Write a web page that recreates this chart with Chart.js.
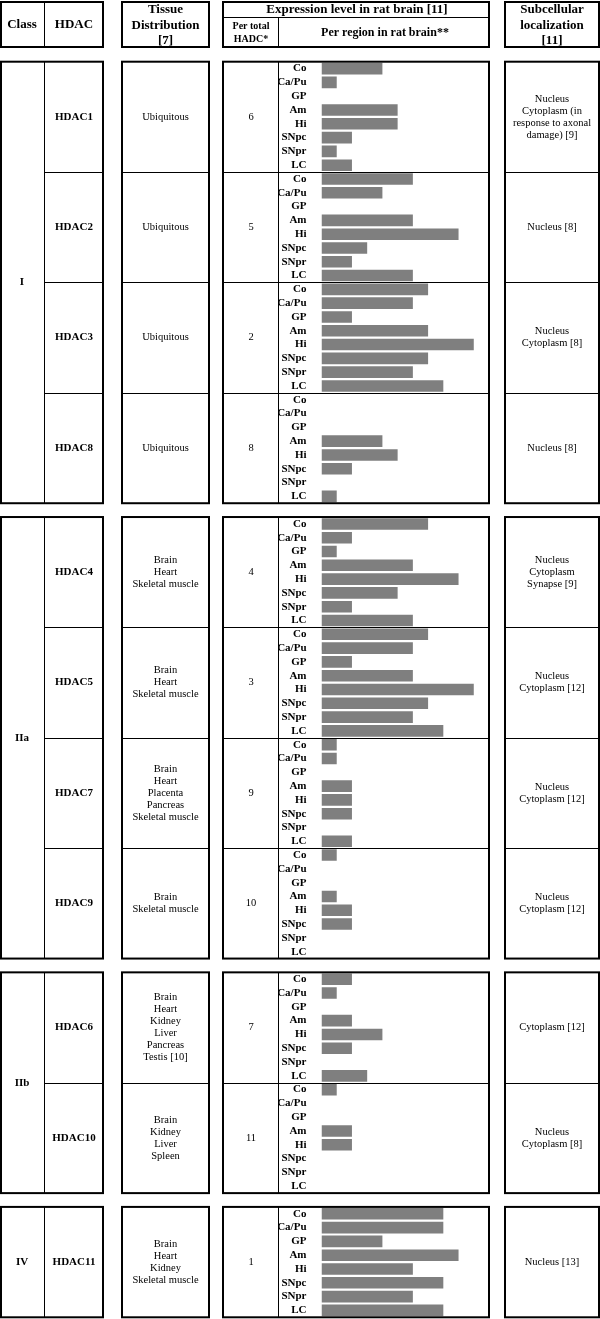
<!DOCTYPE html>
<html>
<head>
<meta charset="utf-8">
<script src="https://cdn.jsdelivr.net/npm/chart.js@4/dist/chart.umd.min.js"></script>
<style>
  html, body { margin: 0; padding: 0; background: #fff; overflow: hidden; }
  canvas { display: block; }
</style>
</head>
<body>
<canvas id="hdacChart" width="600" height="1332"></canvas>
<script>
// DATA
let regions = ['Co', 'Ca/Pu', 'GP', 'Am', 'Hi', 'SNpc', 'SNpr', 'LC'];
let classNames = ['I', 'IIa', 'IIb', 'IV'];
let classSizes = [4, 4, 2, 1];
let hdacNames = ['HDAC1', 'HDAC2', 'HDAC3', 'HDAC8', 'HDAC4', 'HDAC5', 'HDAC7', 'HDAC9', 'HDAC6', 'HDAC10', 'HDAC11'];
let perTotal = ['6', '5', '2', '8', '4', '3', '9', '10', '7', '11', '1'];

// expression level per region (Co, Ca/Pu, GP, Am, Hi, SNpc, SNpr, LC)
let hdac1 = [4, 1, 0, 5, 5, 2, 1, 2];
let hdac2 = [6, 4, 0, 6, 9, 3, 2, 6];
let hdac3 = [7, 6, 2, 7, 10, 7, 6, 8];
let hdac8 = [0, 0, 0, 4, 5, 2, 0, 1];
let hdac4 = [7, 2, 1, 6, 9, 5, 2, 6];
let hdac5 = [7, 6, 2, 6, 10, 7, 6, 8];
let hdac7 = [1, 1, 0, 2, 2, 2, 0, 2];
let hdac9 = [1, 0, 0, 1, 2, 2, 0, 0];
let hdac6 = [2, 1, 0, 2, 4, 2, 0, 3];
let hdac10 = [1, 0, 0, 2, 2, 0, 0, 0];
let hdac11 = [8, 8, 4, 9, 6, 8, 6, 8];
let levels = [hdac1, hdac2, hdac3, hdac8, hdac4, hdac5, hdac7, hdac9, hdac6, hdac10, hdac11];

let tissue = [
  ['Ubiquitous'], ['Ubiquitous'], ['Ubiquitous'], ['Ubiquitous'],
  ['Brain', 'Heart', 'Skeletal muscle'],
  ['Brain', 'Heart', 'Skeletal muscle'],
  ['Brain', 'Heart', 'Placenta', 'Pancreas', 'Skeletal muscle'],
  ['Brain', 'Skeletal muscle'],
  ['Brain', 'Heart', 'Kidney', 'Liver', 'Pancreas', 'Testis [10]'],
  ['Brain', 'Kidney', 'Liver', 'Spleen'],
  ['Brain', 'Heart', 'Kidney', 'Skeletal muscle']
];
let subcell = [
  ['Nucleus', 'Cytoplasm (in', 'response to axonal', 'damage) [9]'],
  ['Nucleus [8]'],
  ['Nucleus', 'Cytoplasm [8]'],
  ['Nucleus [8]'],
  ['Nucleus', 'Cytoplasm', 'Synapse [9]'],
  ['Nucleus', 'Cytoplasm [12]'],
  ['Nucleus', 'Cytoplasm [12]'],
  ['Nucleus', 'Cytoplasm [12]'],
  ['Cytoplasm [12]'],
  ['Nucleus', 'Cytoplasm [8]'],
  ['Nucleus [13]']
];

// build category rows, one blank spacer row between classes
let labels = [], values = [], rowStart = [], groupStart = [];
let k = 0;
classSizes.forEach((n, ci) => {
  if (ci > 0) { labels.push(''); values.push(null); }
  groupStart.push(labels.length);
  for (let j = 0; j < n; j++) {
    rowStart.push(labels.length);
    regions.forEach((r, ri) => { labels.push(r); values.push(levels[k][ri]); });
    k++;
  }
});

let serif = '"Liberation Serif", "DejaVu Serif", serif';

function lines(ctx, arr, x, yc, lh) {
  let y0 = yc - (arr.length - 1) * lh / 2;
  arr.forEach((t, i) => ctx.fillText(t, x, y0 + i * lh));
}

let tablePlugin = {
  id: 'table',
  afterDraw(chart) {
    let ctx = chart.ctx;
    let area = chart.chartArea;
    let slot = (area.bottom - area.top) / labels.length;
    let yAt = i => area.top + i * slot;
    ctx.save();
    ctx.strokeStyle = '#000';
    ctx.fillStyle = '#000';
    ctx.textAlign = 'center';
    ctx.textBaseline = 'middle';

    // header
    let hTop = 2, hBot = 47;
    ctx.lineWidth = 2;
    ctx.strokeRect(1, hTop, 102, hBot - hTop);
    ctx.strokeRect(122, hTop, 87, hBot - hTop);
    ctx.strokeRect(223, hTop, 266, hBot - hTop);
    ctx.strokeRect(505, hTop, 94, hBot - hTop);
    ctx.lineWidth = 1;
    ctx.beginPath();
    ctx.moveTo(44.5, hTop); ctx.lineTo(44.5, hBot);
    ctx.moveTo(223, 17.5); ctx.lineTo(489, 17.5);
    ctx.moveTo(278.5, 17.5); ctx.lineTo(278.5, hBot);
    ctx.stroke();

    ctx.font = 'bold 13px ' + serif;
    ctx.fillText('Class', 22, 25);
    ctx.fillText('HDAC', 74, 25);
    lines(ctx, ['Tissue', 'Distribution', '[7]'], 165.5, 25.5, 15.5);
    lines(ctx, ['Subcellular', 'localization', '[11]'], 552, 25.5, 15.5);
    ctx.fillText('Expression level in rat brain [11]', 357, 10);
    ctx.font = 'bold 12px ' + serif;
    ctx.fillText('Per region in rat brain**', 385, 33);
    ctx.font = 'bold 10px ' + serif;
    lines(ctx, ['Per total', 'HADC*'], 251, 33, 13);

    // body groups
    let r = 0;
    classSizes.forEach((n, ci) => {
      let top = yAt(groupStart[ci]);
      let bot = yAt(groupStart[ci] + n * regions.length);
      ctx.lineWidth = 2;
      ctx.strokeRect(1, top, 102, bot - top);
      ctx.strokeRect(122, top, 87, bot - top);
      ctx.strokeRect(223, top, 266, bot - top);
      ctx.strokeRect(505, top, 94, bot - top);
      ctx.lineWidth = 1;
      ctx.beginPath();
      ctx.moveTo(44.5, top); ctx.lineTo(44.5, bot);
      ctx.moveTo(278.5, top); ctx.lineTo(278.5, bot);
      for (let j = 1; j < n; j++) {
        let y = Math.round(yAt(groupStart[ci] + j * regions.length)) + 0.5;
        ctx.moveTo(44, y); ctx.lineTo(103, y);
        ctx.moveTo(122, y); ctx.lineTo(209, y);
        ctx.moveTo(223, y); ctx.lineTo(489, y);
        ctx.moveTo(505, y); ctx.lineTo(599, y);
      }
      ctx.stroke();

      ctx.font = 'bold 11px ' + serif;
      ctx.fillText(classNames[ci], 22, (top + bot) / 2);

      for (let j = 0; j < n; j++, r++) {
        let rt = yAt(rowStart[r]);
        let yc = rt + regions.length * slot / 2;
        ctx.font = 'bold 11px ' + serif;
        ctx.fillText(hdacNames[r], 74, yc);
        ctx.font = '10.5px ' + serif;
        lines(ctx, tissue[r], 165.5, yc, 12);
        ctx.fillText(perTotal[r], 251, yc);
        lines(ctx, subcell[r], 552, yc, 12);
      }
    });
    ctx.restore();
  }
};

let ctx = document.getElementById('hdacChart').getContext('2d');
let hdacChart = new Chart(ctx, {
  type: 'bar',
  data: {
    labels: labels,
    datasets: [{
      label: 'Expression level',
      data: values,
      backgroundColor: '#7f7f7f',
      borderWidth: 0,
      barPercentage: 0.84,
      categoryPercentage: 1
    }]
  },
  options: {
    indexAxis: 'y',
    responsive: false,
    animation: false,
    layout: { padding: { top: 61.7, bottom: 14.7, left: 278, right: 111 } },
    plugins: { legend: { display: false }, tooltip: { enabled: false } },
    scales: {
      x: { display: false, min: 0, max: 11 },
      y: {
        grid: { display: false },
        border: { display: false },
        ticks: {
          autoSkip: false,
          padding: 7,
          color: '#000',
          font: { family: serif, weight: 'bold', size: 11 }
        },
        afterFit(scale) { scale.width = 43.5; }
      }
    }
  },
  plugins: [tablePlugin]
});
</script>
</body>
</html>
